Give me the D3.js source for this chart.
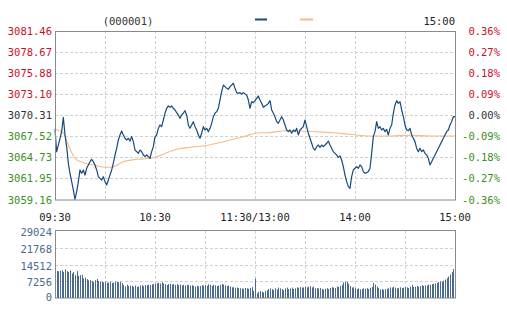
<!DOCTYPE html>
<html>
<head>
<meta charset="utf-8">
<script src="https://cdn.jsdelivr.net/npm/d3@7"></script>
<style>
  body { margin: 0; background: #fff; }
  svg text { font-family: "DejaVu Sans Mono", "Liberation Mono", monospace; font-size: 10.5px; }
</style>
</head>
<body>
<svg id="chart" width="507" height="314"></svg>
<script>
// index code, previous close and tick labels
var code = "(000001)";
var prevClose = 3070.31;
var priceTicks = [3081.46, 3078.67, 3075.88, 3073.10, 3070.31, 3067.52, 3064.73, 3061.95, 3059.16];
var pctTicks = ["0.36%", "0.27%", "0.18%", "0.09%", "0.00%", "-0.09%", "-0.18%", "-0.27%", "-0.36%"];
var volTicks = [29024, 21768, 14512, 7256, 0];
var timeTicks = [0, 60, 120, 180, 240];
var timeLabels = ["09:30", "10:30", "11:30/13:00", "14:00", "15:00"];

// one price per trading minute (0 = 09:30, 240 = 15:00)
var price = [
  3068.45, 3065.49, 3066.37, 3067.26, 3068.14, 3070.04, 3067.70, 3066.15, 3063.95, 3062.63,
  3061.52, 3060.42, 3059.19, 3060.20, 3061.52, 3063.07, 3062.63, 3063.07, 3062.40, 3063.29,
  3063.73, 3064.17, 3064.48, 3064.17, 3063.73, 3063.07, 3062.18, 3061.96, 3061.74, 3062.18,
  3061.52, 3061.08, 3061.74, 3062.40, 3063.07, 3063.95, 3065.05, 3065.93, 3067.04, 3067.70,
  3068.23, 3067.70, 3067.26, 3067.04, 3067.26, 3066.90, 3067.48, 3066.82, 3065.71, 3065.49,
  3065.27, 3065.71, 3065.49, 3065.05, 3064.83, 3065.05, 3064.83, 3064.61, 3065.49, 3066.15,
  3067.48, 3067.70, 3068.58, 3069.02, 3068.80, 3069.68, 3070.57, 3071.23, 3071.54, 3071.36,
  3071.54, 3071.23, 3071.01, 3070.65, 3070.35, 3069.90, 3070.35, 3070.57, 3070.92, 3070.35,
  3069.02, 3068.58, 3069.02, 3069.46, 3068.80, 3068.36, 3067.70, 3067.26, 3067.92, 3068.80,
  3068.36, 3068.58, 3068.14, 3068.58, 3069.24, 3070.12, 3070.57, 3070.79, 3071.23, 3072.33,
  3073.43, 3074.31, 3074.09, 3073.87, 3073.74, 3074.09, 3074.31, 3074.54, 3073.87, 3073.30,
  3073.21, 3073.30, 3073.12, 3073.30, 3073.12, 3072.99, 3072.33, 3071.23, 3072.11, 3071.98,
  3072.24, 3072.55, 3072.86, 3072.33, 3071.89, 3071.36, 3071.54, 3071.67, 3071.89, 3072.24,
  3071.01, 3070.57, 3070.12, 3069.46, 3069.24, 3069.68, 3070.12, 3069.68, 3069.02, 3068.36,
  3068.14, 3068.36, 3067.92, 3068.36, 3068.14, 3068.58, 3067.70, 3068.36, 3068.58, 3068.80,
  3069.68, 3068.80, 3067.92, 3067.26, 3066.60, 3065.93, 3065.71, 3066.15, 3066.37, 3066.07,
  3066.37, 3066.15, 3066.37, 3066.60, 3066.90, 3066.37, 3065.93, 3065.49, 3065.27, 3065.05,
  3064.74, 3064.92, 3064.39, 3063.51, 3062.40, 3061.52, 3060.86, 3060.64, 3062.18, 3063.07,
  3063.29, 3063.51, 3063.29, 3063.73, 3063.51, 3062.85, 3062.63, 3062.71, 3062.85, 3063.29,
  3065.27, 3067.48, 3068.14, 3069.46, 3068.58, 3068.80, 3068.36, 3068.58, 3068.14, 3068.45,
  3067.70, 3068.58, 3069.02, 3070.57, 3071.67, 3072.24, 3071.89, 3072.11, 3071.01, 3070.12,
  3069.02, 3068.36, 3068.27, 3068.58, 3067.70, 3067.26, 3066.82, 3065.93, 3065.49, 3065.93,
  3065.49, 3065.71, 3065.27, 3065.05, 3064.61, 3063.73, 3064.17, 3064.61, 3065.05, 3065.49,
  3065.93, 3066.37, 3066.82, 3067.26, 3067.70, 3068.14, 3068.36, 3069.02, 3069.46, 3070.12,
  3070.12
];

var avgMinutes = [0, 5, 8, 12, 17, 23, 31, 35, 41, 49, 57, 60, 66, 73, 81, 89, 97, 105, 113, 123, 127, 137, 147, 157, 167, 177, 189, 201, 213, 225, 240];
var avgPrice = [3068.45, 3067.96, 3066.37, 3064.61, 3064.03, 3063.73, 3063.42, 3063.50, 3064.16, 3064.48, 3064.61, 3064.72, 3065.25, 3065.80, 3066.07, 3066.24, 3066.60, 3067.03, 3067.47, 3068.00, 3068.00, 3068.23, 3068.23, 3068.13, 3068.00, 3067.79, 3067.56, 3067.56, 3067.66, 3067.56, 3067.56];

// volume per minute
var volume = [
  11900, 11700, 11600, 11800, 12000, 11300, 12400, 11600, 11300, 11900,
  10600, 11300, 9900, 11600, 9600, 9900, 10100, 8500, 8800, 8200,
  7700, 7700, 7400, 7000, 7700, 8200, 7400, 7000, 7100, 6800,
  7000, 6600, 6700, 7000, 6500, 6700, 7000, 7000, 6800, 7000,
  6500, 5600, 5000, 5800, 5200, 5300, 5300, 4900, 5400, 4800,
  5000, 5400, 5500, 5100, 5600, 5500, 5800, 5600, 5900, 6000,
  6200, 6400, 6600, 6300, 6800, 6300, 6000, 5600, 6000, 6100,
  5800, 6000, 5700, 6000, 5600, 5800, 5500, 5600, 5400, 5600,
  5700, 5400, 5500, 5300, 5000, 5300, 5000, 5200, 5500, 5400,
  5600, 5300, 5900, 5700, 5300, 5700, 5500, 5200, 5400, 5700,
  6100, 5800, 5500, 5200, 5400, 4900, 4600, 4700, 4400, 4500,
  4300, 4200, 4100, 4000, 4300, 4200, 4000, 4300, 4700, 3100,
  8400, 2000, 2700, 3000, 2700, 2400, 3000, 3400, 3900, 4200,
  3900, 3400, 4200, 3700, 4500, 4200, 3900, 3400, 4200, 4500,
  3900, 4200, 4500, 3900, 4200, 4600, 4400, 4700, 4500, 4600,
  4800, 4600, 4900, 5100, 4600, 4900, 4200, 4300, 4100, 4300,
  3900, 3700, 4000, 4300, 3900, 4300, 4700, 4500, 4300, 5000,
  4800, 5200, 5700, 6800, 7100, 7000, 6200, 5200, 4500, 4700,
  4200, 3900, 4200, 3700, 3900, 4200, 4000, 4300, 3900, 4400,
  4800, 6500, 5800, 5000, 4300, 3700, 3900, 3500, 3800, 4000,
  4200, 4600, 4500, 4900, 4500, 4200, 4400, 4600, 4300, 4500,
  4800, 4600, 4300, 4900, 5700, 4800, 4900, 5300, 4800, 5100,
  5600, 5200, 5500, 5400, 5800, 5700, 6000, 6100, 6300, 6500,
  6900, 7200, 7000, 7500, 8000, 8600, 9300, 10200, 11300, 12600,
  13500
];

var svg = d3.select("#chart");
var left = 55, right = 455;
var mainTop = 31, mainBottom = 199.5;
var volTop = 231, volBottom = 298;

var x = d3.scaleLinear().domain([0, 240]).range([left, right]);
var y = d3.scaleLinear().domain([priceTicks[8], priceTicks[0]]).range([mainBottom, mainTop]);
var yVol = d3.scaleLinear().domain([0, volTicks[0]]).range([volBottom, volTop]);

var red = "#c8102a", green = "#3c8f1e", dark = "#333", volColor = "#4a6b8c";
var gridColor = "#d0d0d0";

function tickColor(v) {
  if (Math.abs(v - prevClose) < 0.005) return dark;
  return v > prevClose ? red : green;
}

// grids
var grid = svg.append("g").attr("stroke", gridColor).attr("stroke-dasharray", "3,2");
grid.selectAll(".hg").data(priceTicks.slice(1, 8)).join("line")
  .attr("x1", left).attr("x2", right)
  .attr("y1", function(d) { return Math.round(y(d)) + 0.5; })
  .attr("y2", function(d) { return Math.round(y(d)) + 0.5; });
grid.selectAll(".vg").data(d3.range(30, 240, 30)).join("line")
  .attr("x1", function(d) { return Math.round(x(d)) + 0.5; })
  .attr("x2", function(d) { return Math.round(x(d)) + 0.5; })
  .attr("y1", mainTop).attr("y2", mainBottom);

var vgrid = svg.append("g").attr("stroke", gridColor).attr("stroke-dasharray", "3,2");
vgrid.selectAll("line.h").data(volTicks.slice(1, 4)).join("line").attr("class", "h")
  .attr("x1", left).attr("x2", right)
  .attr("y1", function(d) { return Math.round(yVol(d)) + 0.5; })
  .attr("y2", function(d) { return Math.round(yVol(d)) + 0.5; });
vgrid.selectAll("line.v").data(d3.range(30, 240, 30)).join("line").attr("class", "v")
  .attr("x1", function(d) { return Math.round(x(d)) + 0.5; })
  .attr("x2", function(d) { return Math.round(x(d)) + 0.5; })
  .attr("y1", volTop).attr("y2", volBottom);

// volume bars
svg.append("g").selectAll("rect").data(volume).join("rect")
  .attr("x", function(d, i) { return Math.round(x(i)); })
  .attr("width", 1)
  .attr("y", function(d) { return yVol(d); })
  .attr("height", function(d) { return volBottom - yVol(d); })
  .attr("fill", volColor);

// average and price lines
var avgLine = d3.line()
  .x(function(d, i) { return x(avgMinutes[i]); })
  .y(function(d) { return y(d); })
  .curve(d3.curveMonotoneX);
svg.append("path").datum(avgPrice)
  .attr("d", avgLine)
  .attr("fill", "none").attr("stroke", "#f2bd8a").attr("stroke-width", 1.1);

var priceLine = d3.line()
  .x(function(d, i) { return x(i); })
  .y(function(d) { return y(d); });
svg.append("path").datum(price)
  .attr("d", priceLine)
  .attr("fill", "none").attr("stroke", "#174a7c").attr("stroke-width", 1.2)
  .attr("stroke-linejoin", "round");

// frames
svg.append("rect").attr("x", left + 0.5).attr("y", mainTop + 0.5)
  .attr("width", right - left).attr("height", mainBottom - mainTop)
  .attr("fill", "none").attr("stroke", "#8a8a8a");
svg.append("rect").attr("x", left + 0.5).attr("y", volTop - 0.5)
  .attr("width", right - left).attr("height", volBottom - volTop + 0.5)
  .attr("fill", "none").attr("stroke", "#8a8a8a");

// left price labels
svg.append("g").selectAll("text").data(priceTicks).join("text")
  .attr("x", 52).attr("y", function(d) { return y(d) + 4; })
  .attr("text-anchor", "end")
  .attr("fill", tickColor)
  .text(function(d) { return d.toFixed(2); });

// right percent labels
svg.append("g").selectAll("text").data(pctTicks).join("text")
  .attr("x", 500).attr("y", function(d, i) { return y(priceTicks[i]) + 4; })
  .attr("text-anchor", "end")
  .attr("fill", function(d, i) { return tickColor(priceTicks[i]); })
  .text(function(d) { return d; });

// time labels
svg.append("g").selectAll("text").data(timeTicks).join("text")
  .attr("x", function(d) { return x(d); }).attr("y", 221)
  .attr("text-anchor", "middle")
  .attr("fill", "#222")
  .text(function(d, i) { return timeLabels[i]; });

// volume labels
svg.append("g").selectAll("text").data(volTicks).join("text")
  .attr("x", 52).attr("y", function(d) { return Math.min(yVol(d) + 5, volBottom + 3); })
  .attr("text-anchor", "end")
  .attr("fill", volColor)
  .text(function(d) { return d; });

// header
svg.append("text").attr("x", 128).attr("y", 25).attr("text-anchor", "middle")
  .attr("fill", "#333").text(code);
svg.append("text").attr("x", 455).attr("y", 25).attr("text-anchor", "end")
  .attr("fill", "#222").text(timeLabels[4]);
svg.append("line").attr("x1", 255).attr("x2", 267).attr("y1", 19.5).attr("y2", 19.5)
  .attr("stroke", "#174a7c").attr("stroke-width", 2);
svg.append("line").attr("x1", 300).attr("x2", 313).attr("y1", 19.5).attr("y2", 19.5)
  .attr("stroke", "#f2bd8a").attr("stroke-width", 2);
</script>
</body>
</html>
